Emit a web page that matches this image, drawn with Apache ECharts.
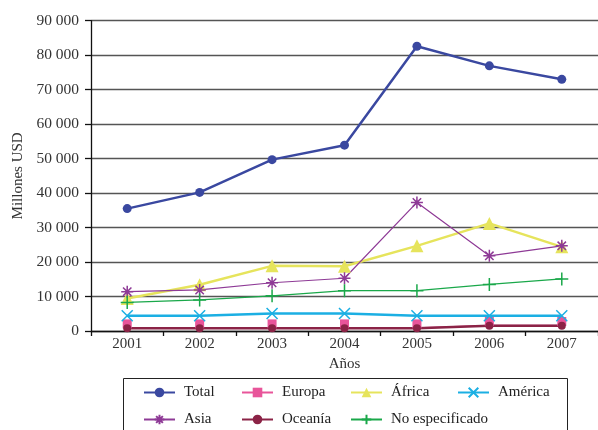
<!DOCTYPE html>
<html>
<head>
<meta charset="utf-8">
<script src="https://cdn.jsdelivr.net/npm/echarts@6/dist/echarts.min.js"></script>
<style>html,body{margin:0;padding:0;background:#fff}#c{width:598px;height:430px}</style>
</head>
<body>
<div id="c"></div>
<script>
const years = ['2001','2002','2003','2004','2005','2006','2007'];
const total = [35500, 40200, 49700, 53900, 82600, 76900, 73000];
const europa = [900, 900, 900, 900, 900, 1600, 1600];
const africa = [9400, 13400, 18900, 18800, 24700, 31200, 24400];
const america = [4400, 4400, 5100, 5100, 4400, 4400, 4400];
const asia = [11400, 11900, 14000, 15300, 37300, 21800, 24700];
const oceania = [800, 800, 800, 800, 800, 1500, 1500];
const noEsp = [8300, 9000, 10200, 11700, 11700, 13500, 15100];
const yTicks = [0, 10000, 20000, 30000, 40000, 50000, 60000, 70000, 80000, 90000];

const FONT = '"Liberation Serif", "DejaVu Serif", serif';
const CROSS = 'path://M0,0L10,10M10,0L0,10';
const PLUS = 'path://M5,0L5,10M0,5L10,5';
const STAR = 'path://M5,0L5,10M0,5L10,5M1.5,1.5L8.5,8.5M8.5,1.5L1.5,8.5';

function mk(name, data, color, symbol, size, lw, stroke, extra) {
  return Object.assign({
    name, type: 'line', data, symbol, symbolSize: size,
    lineStyle: { color, width: lw },
    itemStyle: stroke ? { color: 'none', borderColor: color, borderWidth: 1.5 } : { color, borderWidth: 0 },
    emphasis: { disabled: true },
    animation: false
  }, extra || {});
}

const series = [
  mk('Total', total, '#3A48A0', 'circle', 9, 2.5, false),
  mk('Europa', europa, '#E8559A', 'rect', 9, 1.5, false, { symbolOffset: [0, -4] }),
  mk('África', africa, '#E6E45C', 'triangle', 13, 2.5, false),
  mk('América', america, '#1BAFE3', CROSS, 11, 2.5, true),
  mk('Asia', asia, '#8E3A96', STAR, 12, 1.2, true),
  mk('Oceanía', oceania, '#8B2346', 'circle', 8, 2.5, false),
  mk('No especificado', noEsp, '#1AA84A', PLUS, 13, 1.2, true)
];

// legend positions: [name, left, top]
const legendPos = [
  ['Total', 143, 385], ['Europa', 241, 385], ['África', 350, 385], ['América', 457, 385],
  ['Asia', 143, 412], ['Oceanía', 241, 412], ['No especificado', 350, 412]
];

const legends = legendPos.map(([n, l, t]) => ({
  data: [n], left: l, top: t, padding: 0,
  itemWidth: 31, itemHeight: 12,
  textStyle: { fontFamily: FONT, fontSize: 15, color: '#222', padding: [0, 0, 0, 4] },
  selectedMode: false
}));

const chart = echarts.init(document.getElementById('c'), null, { renderer: 'canvas' });
chart.setOption({
  backgroundColor: '#fff',
  animation: false,
  grid: { left: 91, right: 0, top: 20.7, bottom: 99, containLabel: false },
  legend: legends,
  graphic: [{
    type: 'rect', shape: { x: 123.5, y: 378.5, width: 444, height: 70 },
    style: { fill: 'none', stroke: '#222', lineWidth: 1 }, z: 0
  }],
  xAxis: {
    type: 'category', data: years, boundaryGap: true,
    name: 'Años', nameLocation: 'middle', nameGap: 23,
    nameTextStyle: { fontFamily: FONT, fontSize: 15, color: '#333' },
    axisLine: { lineStyle: { color: '#111', width: 1.3 } },
    axisTick: { show: true, length: 5, lineStyle: { color: '#111', width: 1.3 } },
    axisLabel: { fontFamily: FONT, fontSize: 15, color: '#333', margin: 6 }
  },
  yAxis: {
    type: 'value', min: yTicks[0], max: yTicks[yTicks.length - 1], interval: 10000,
    name: 'Millones USD', nameLocation: 'middle', nameGap: 64, nameRotate: 90,
    nameTextStyle: { fontFamily: FONT, fontSize: 15, color: '#333' },
    axisLine: { show: true, lineStyle: { color: '#111', width: 1.3 } },
    axisTick: { show: true, length: 6, lineStyle: { color: '#111', width: 1.3 } },
    axisLabel: {
      fontFamily: FONT, fontSize: 15.5, color: '#333', margin: 12,
      formatter: v => String(v).replace(/\B(?=(\d{3})+(?!\d))/g, ' ')
    },
    splitLine: { show: true, lineStyle: { color: '#555', width: 1.3 } }
  },
  series
});
</script>
</body>
</html>
